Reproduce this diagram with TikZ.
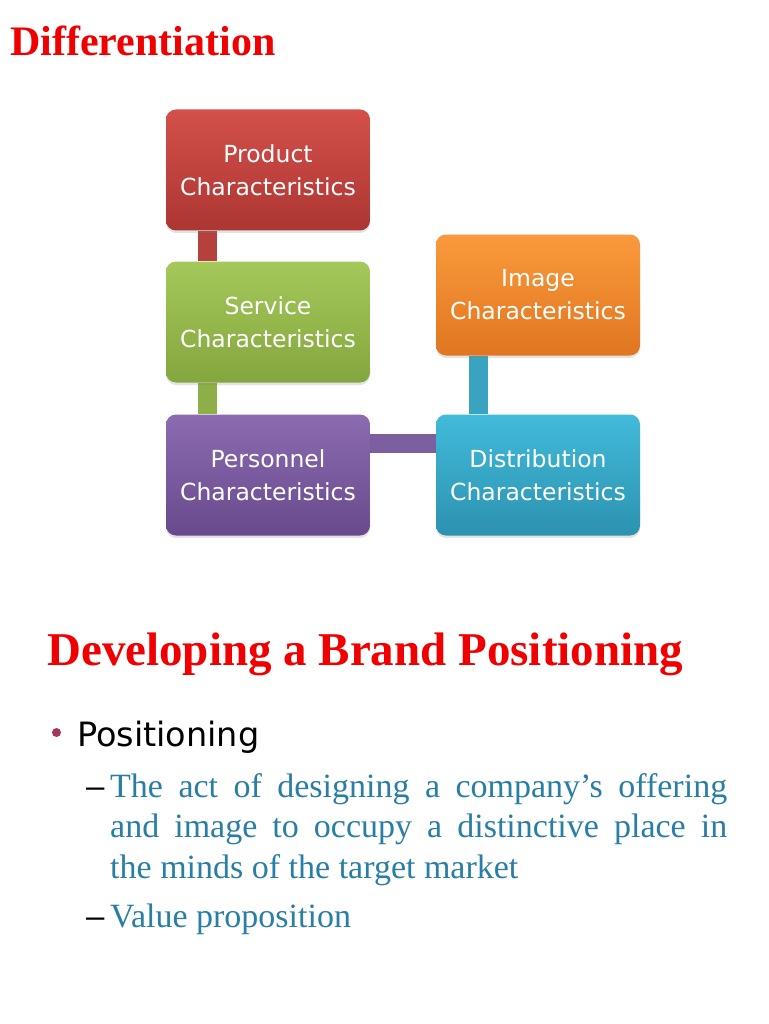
\documentclass[tikz,border=0pt]{standalone}
\usepackage{fontspec}
\usetikzlibrary{backgrounds,shadows}
\newfontfamily\boxfont{DejaVu Sans}
\newfontfamily\tnr{Liberation Serif}
\newfontfamily\arialf{Liberation Sans}
\definecolor{prodtop}{RGB}{212,80,75}
\definecolor{prodbot}{RGB}{172,54,50}
\definecolor{servtop}{RGB}{165,200,90}
\definecolor{servbot}{RGB}{132,166,62}
\definecolor{perstop}{RGB}{140,107,177}
\definecolor{persbot}{RGB}{104,74,140}
\definecolor{imgtop}{RGB}{250,154,60}
\definecolor{imgbot}{RGB}{224,118,32}
\definecolor{disttop}{RGB}{66,186,218}
\definecolor{distbot}{RGB}{44,146,176}
\definecolor{prodbar}{RGB}{181,65,61}
\definecolor{servbar}{RGB}{141,175,71}
\definecolor{persbar}{RGB}{124,95,160}
\definecolor{distbar}{RGB}{58,163,192}
\definecolor{bodyblue}{RGB}{40,126,164}
\definecolor{bulletcol}{RGB}{165,52,94}
\definecolor{titlered}{RGB}{240,0,0}
\begin{document}
\begin{tikzpicture}[x=1pt,y=-1pt,
  charbox/.style={rounded corners=10pt, minimum width=204pt, minimum height=121pt,
    align=center, text=white, inner sep=0pt,
    font={\boxfont\fontsize{23.5pt}{33pt}\selectfont},
    drop shadow={opacity=0.22, shadow xshift=0pt, shadow yshift=-2.5pt}},
  conn/.style={line width=19pt},
  title/.style={anchor=base west, inner sep=0pt, text=titlered, font={\tnr\bfseries\fontsize{#1}{#1}\selectfont}},
  body/.style={anchor=base west, inner sep=0pt, text=bodyblue, font={\tnr\fontsize{34pt}{40pt}\selectfont}},
  dashmark/.style={anchor=base west, inner sep=0pt, font={\arialf\fontsize{33pt}{40pt}\selectfont}}
]
\useasboundingbox (0,0) rectangle (768,1024);

\node[title=42pt] (t1) at (10,56) {Differentiation};

\node[charbox, top color=prodtop, bottom color=prodbot] (prod) at (268,170) {Product\\Characteristics};
\node[charbox, top color=servtop, bottom color=servbot] (serv) at (268,322) {Service\\Characteristics};
\node[charbox, top color=perstop, bottom color=persbot] (pers) at (268,475) {Personnel\\Characteristics};
\node[charbox, top color=imgtop, bottom color=imgbot] (img) at (538,295) {Image\\Characteristics};
\node[charbox, top color=disttop, bottom color=distbot] (dist) at (538,475) {Distribution\\Characteristics};

\begin{scope}[on background layer]
\fill[white] (0,0) rectangle (768,1024);
\draw[conn, prodbar] ([xshift=-61pt]prod.south) -- ([xshift=-61pt]serv.north);
\draw[conn, servbar] ([xshift=-61pt]serv.south) -- ([xshift=-61pt]pers.north);
\draw[conn, persbar] ([yshift=32pt]pers.east) -- ([yshift=32pt]dist.west);
\draw[conn, distbar] ([xshift=-60pt]img.south) -- ([xshift=-60pt]dist.north);
\end{scope}

\node[title=47pt] (t2) at (47,665) {Developing a Brand Positioning};

\node[circle, fill=bulletcol, minimum size=9pt, inner sep=0pt] (bul) at (56.5,732.5) {};
\node[anchor=base west, inner sep=0pt, font={\boxfont\fontsize{33.5pt}{40pt}\selectfont}] (pos) at (77,746) {Positioning};

\node[dashmark] (d1) at (86,797) {–};
\node[body] (l1) at (110,797) {\makebox[617pt][s]{The act of designing a company’s offering}};
\node[body] (l2) at (110,837.5) {\makebox[617pt][s]{and image to occupy a distinctive place in}};
\node[body] (l3) at (110,878) {the minds of the target market};
\node[dashmark] (d2) at (86,927) {–};
\node[body] (l4) at (110,927) {Value proposition};
\end{tikzpicture}
\end{document}
